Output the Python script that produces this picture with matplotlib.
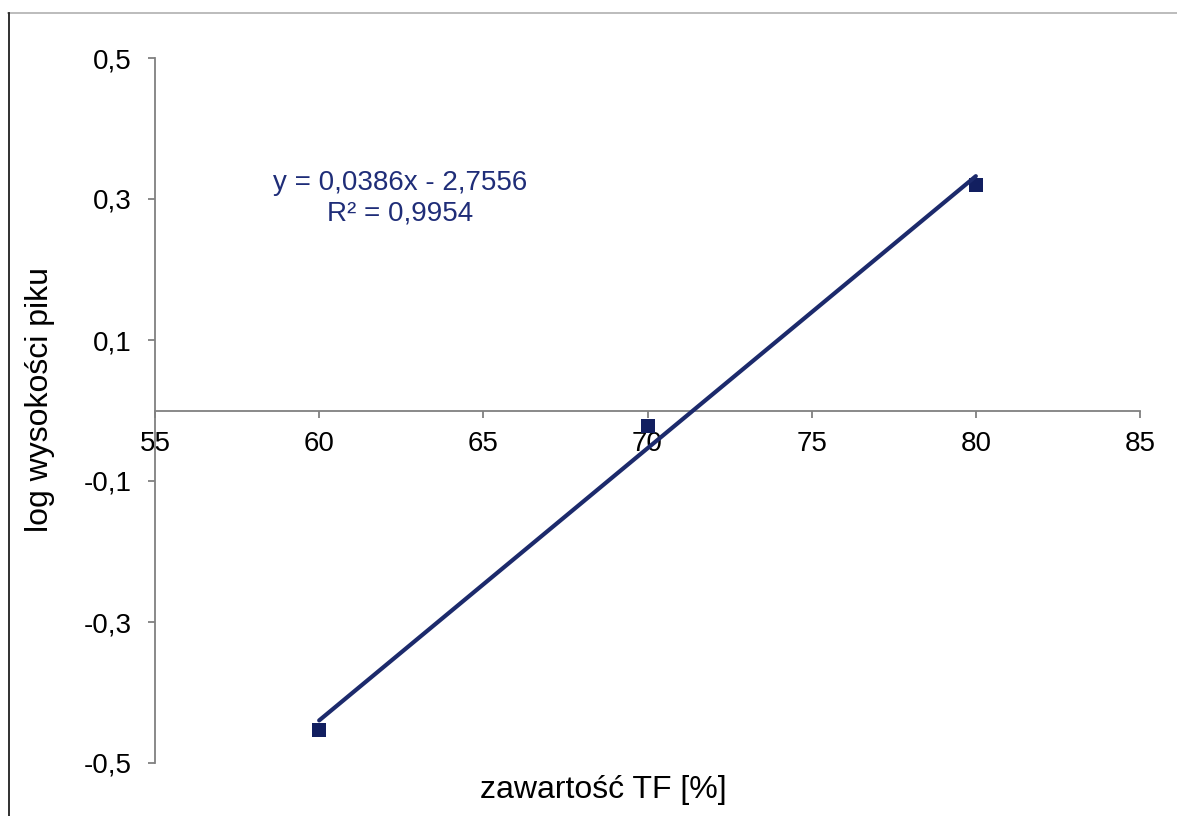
import matplotlib
matplotlib.use("Agg")
import matplotlib.pyplot as plt
from matplotlib.lines import Line2D
from matplotlib.ticker import FuncFormatter

plt.rcParams['font.family'] = ['Liberation Sans', 'DejaVu Sans']

# Measured data
tf_content = [60, 70, 80]
log_peak_height = [-0.4525, -0.022, 0.3199]

# Linear trendline parameters
slope = 0.0386
intercept = -2.7556
r_squared = 0.9954

x_ticks = [55, 60, 65, 70, 75, 80, 85]
y_ticks = [-0.5, -0.3, -0.1, 0.1, 0.3, 0.5]

navy = '#121f60'
line_col = '#1c2a6c'
text_navy = '#1f2d78'
axis_gray = '#808080'

fig = plt.figure(figsize=(11.77, 8.16), dpi=100)
ax = fig.add_axes([155 / 1177, 1 - 763 / 816, (1140 - 155) / 1177, (763 - 58) / 816])

ax.set_xlim(55, 85)
ax.set_ylim(-0.5, 0.5)

ax.scatter(tf_content, log_peak_height, marker='s', s=95, color=navy,
           linewidths=0, zorder=3)

x_fit = [min(tf_content), max(tf_content)]
y_fit = [slope * x + intercept for x in x_fit]
ax.plot(x_fit, y_fit, color=line_col, lw=3.0, solid_capstyle='round', zorder=4)

# Axis styling: x axis crosses at y = 0
for side in ('top', 'right'):
    ax.spines[side].set_visible(False)
ax.spines['bottom'].set_position(('data', 0))
for side in ('left', 'bottom'):
    ax.spines[side].set_color(axis_gray)
    ax.spines[side].set_linewidth(1.3)

ax.set_xticks(x_ticks)
ax.set_yticks(y_ticks)
ax.xaxis.set_major_formatter(FuncFormatter(lambda v, p: f"{v:g}".replace('.', ',')))
ax.yaxis.set_major_formatter(FuncFormatter(lambda v, p: f"{v:.1f}".replace('.', ',')))
ax.tick_params(axis='both', direction='out', length=5, width=1.3, color=axis_gray,
               labelsize=20, labelcolor='black')
ax.tick_params(axis='x', pad=10)
ax.tick_params(axis='y', pad=12)

# Trendline equation
fig.text(400 / 1177, 1 - 183 / 816,
         f"y = {slope:.4f}x - {abs(intercept):.4f}".replace('.', ','),
         ha='center', va='center', fontsize=20, color=text_navy)
fig.text(400 / 1177, 1 - 213 / 816,
         f"R² = {r_squared:.4f}".replace('.', ','),
         ha='center', va='center', fontsize=20, color=text_navy)

fig.text(40 / 1177, 1 - 400 / 816, 'log wysokości piku', rotation=90,
         ha='center', va='center', fontsize=23)
fig.text(603 / 1177, 1 - 790 / 816, 'zawartość TF [%]',
         ha='center', va='center', fontsize=23)

# Outer chart frame
fig.add_artist(Line2D([8 / 1177, 1], [1 - 13 / 816] * 2, color='#b0b0b0', lw=1.2,
                      transform=fig.transFigure))
fig.add_artist(Line2D([9 / 1177] * 2, [0, 1 - 13 / 816], color='#202020', lw=1.3,
                      transform=fig.transFigure))

fig.savefig('out.png', dpi=100)
